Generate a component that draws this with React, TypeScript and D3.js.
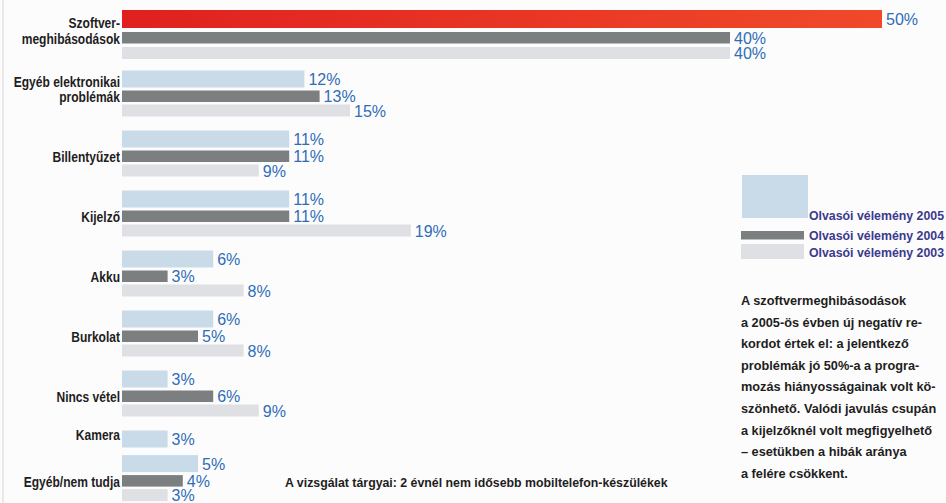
import React from "react";
import * as d3 from "d3";

const categories = [
  ["Szoftver-", "meghibásodások"],
  ["Egyéb elektronikai", "problémák"],
  ["Billentyűzet"],
  ["Kijelző"],
  ["Akku"],
  ["Burkolat"],
  ["Nincs vétel"],
  ["Kamera"],
  ["Egyéb/nem tudja"],
];
const v2005: (number | null)[] = [50, 12, 11, 11, 6, 6, 3, 3, 5];
const v2004: (number | null)[] = [40, 13, 11, 11, 3, 5, 6, null, 4];
const v2003: (number | null)[] = [40, 15, 9, 19, 8, 8, 9, null, 3];
const seriesNames = ["Olvasói vélemény 2005", "Olvasói vélemény 2004", "Olvasói vélemény 2003"];
const noteLines = [
  "A szoftvermeghibásodások",
  "a 2005-ös évben új negatív re-",
  "kordot értek el: a jelentkező",
  "problémák jó 50%-a a progra-",
  "mozás hiányosságainak volt kö-",
  "szönhető. Valódi javulás csupán",
  "a kijelzőknél volt megfigyelhető",
  "– esetükben a hibák aránya",
  "a felére csökkent.",
];
const caption = "A vizsgálat tárgyai: 2 évnél nem idősebb mobiltelefon-készülékek";

const W = 946;
const H = 503;
const BOLD = "'Liberation Sans', Arial, Helvetica, sans-serif";
const REG = "'Liberation Sans', Arial, Helvetica, sans-serif";
const barColors = ["#c9dbe9", "#7c7f80", "#dfe0e3"];
const barOffsets = [0, 20, 34];
const barHeights = [17, 11.5, 12];
const valueColor = "#2f6db8";
const legendColor = "#3a3a8e";
const textColor = "#1e1e1e";

function CondText(props: {
  x: number;
  y: number;
  sx: number;
  size: number;
  anchor?: string;
  fill: string;
  children: React.ReactNode;
}) {
  return (
    <text
      transform={`translate(${props.x},${props.y}) scale(${props.sx},1)`}
      textAnchor={props.anchor || "start"}
      fontFamily={BOLD}
      fontWeight="bold"
      fontSize={props.size}
      fill={props.fill}
    >
      {props.children}
    </text>
  );
}

export default function App() {
  const x = d3.scaleLinear().domain([0, 50]).range([122, 882]);
  const series = [v2005, v2004, v2003];

  const rowUnit = 17.7;
  const gapUnit = 6.9;
  const groupRows = categories.map((_, i) => series.filter((s) => s[i] != null).length);
  const starts: number[] = [];
  let acc = 0;
  groupRows.forEach((r) => {
    starts.push(acc);
    acc += r * rowUnit + gapUnit;
  });
  const y = d3.scaleLinear().domain([0, acc]).range([10.5, 10.5 + acc]);

  const bars: React.ReactNode[] = [];
  const labels: React.ReactNode[] = [];
  const catLabels: React.ReactNode[] = [];

  categories.forEach((cat, i) => {
    const top = i === 0 ? y(starts[i]) - 0.5 : y(starts[i]);
    const present = series.map((s, k) => ({ k, v: s[i] })).filter((d) => d.v != null);
    present.forEach((d, j) => {
      const k = d.k;
      let by = top + barOffsets[j];
      let bh = barHeights[j];
      if (i === 0 && k === 0) bh = 18;
      if (i === 0 && k > 0) by += 2 + (k === 2 ? 1 : 0);
      const fill = i === 0 && k === 0 ? "url(#redGrad)" : barColors[k];
      bars.push(
        <rect key={`b${i}-${k}`} x={x(0)} y={by} width={x(d.v as number) - x(0)} height={bh} fill={fill} />
      );
      labels.push(
        <text
          key={`l${i}-${k}`}
          x={x(d.v as number) + 4}
          y={by + bh / 2 + 6}
          fill={valueColor}
          fontFamily={REG}
          fontSize={16}
        >
          {`${d.v}%`}
        </text>
      );
    });
    if (cat.length === 2) {
      const b2 = top + barOffsets[1] + barHeights[1] + (i === 0 ? 2 : 0);
      catLabels.push(
        <CondText key={`c${i}a`} x={120} y={b2 - 15.5} sx={0.86} size={14} anchor="end" fill={textColor}>
          {cat[0]}
        </CondText>
      );
      catLabels.push(
        <CondText key={`c${i}b`} x={120} y={b2} sx={0.86} size={14} anchor="end" fill={textColor}>
          {cat[1]}
        </CondText>
      );
    } else {
      const j = present.length >= 2 ? 1 : 0;
      const by = top + barOffsets[j];
      const base = present.length >= 2 ? by + barHeights[j] : by + barHeights[j] / 2 + 1;
      catLabels.push(
        <CondText key={`c${i}`} x={120} y={base} sx={0.86} size={14} anchor="end" fill={textColor}>
          {cat[0]}
        </CondText>
      );
    }
  });

  const legendRects = [
    { x: 742, y: 175, w: 66, h: 43, ty: 220 },
    { x: 741, y: 231, w: 63, h: 8.5, ty: 240 },
    { x: 741, y: 244, w: 63, h: 15, ty: 257 },
  ];

  return (
    <svg
      width={W}
      height={H}
      viewBox={`0 0 ${W} ${H}`}
      style={{ position: "absolute", left: 0, top: 0, display: "block" }}
    >
      <defs>
        <linearGradient id="redGrad" x1="0" x2="1" y1="0" y2="0">
          <stop offset="0%" stopColor="#e0201f" />
          <stop offset="100%" stopColor="#f04a2a" />
        </linearGradient>
      </defs>
      <rect x={0} y={0} width={W} height={H} fill="#fdfcfc" />
      <rect x={2} y={0} width={2} height={H} fill="#ece6e6" />
      {bars}
      {labels}
      {catLabels}
      {legendRects.map((r, k) => (
        <g key={`lg${k}`}>
          <rect x={r.x} y={r.y} width={r.w} height={r.h} fill={barColors[k]} />
          <CondText x={809} y={r.ty} sx={0.95} size={13} fill={legendColor}>
            {seriesNames[k]}
          </CondText>
        </g>
      ))}
      {noteLines.map((t, i) => (
        <CondText key={`n${i}`} x={741} y={305 + i * 21.6} sx={0.98} size={13} fill={textColor}>
          {t}
        </CondText>
      ))}
      <CondText x={285} y={487} sx={0.95} size={13} fill={textColor}>
        {caption}
      </CondText>
    </svg>
  );
}
